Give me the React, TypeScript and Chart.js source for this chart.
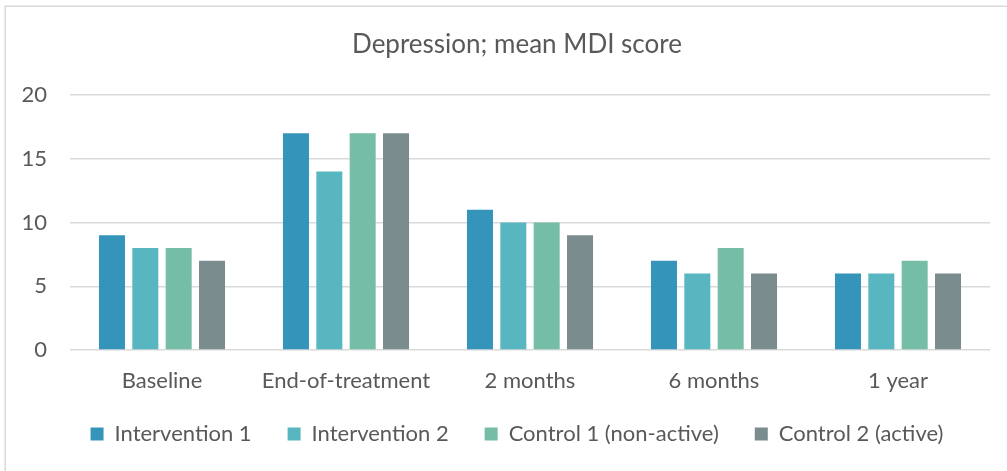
import React, { useEffect, useRef } from "react";
import { Chart, registerables } from "chart.js";

Chart.register(...registerables);

const categories = ["Baseline", "End-of-treatment", "2 months", "6 months", "1 year"];
const seriesNames = ["Intervention 1", "Intervention 2", "Control 1 (non-active)", "Control 2 (active)"];
const intervention1 = [9, 17, 11, 7, 6];
const intervention2 = [8, 14, 10, 6, 6];
const control1 = [8, 17, 10, 8, 7];
const control2 = [7, 17, 9, 6, 6];
const seriesColors = ["#3494BA", "#58B6C0", "#75BDA7", "#7A8C8E"];
const yTicks = [0, 5, 10, 15, 20];
const titleText = "Depression; mean MDI score";

const FONT = "Lato, 'Open Sans', sans-serif";
const TEXT = "#595959";
const GRID = "#d9d9d9";

const borderPlugin = {
  id: "outerBorder",
  beforeDraw(chart: any) {
    const ctx = chart.ctx;
    ctx.save();
    ctx.fillStyle = "#ffffff";
    ctx.fillRect(0, 0, chart.width, chart.height);
    ctx.strokeStyle = GRID;
    ctx.lineWidth = 1.5;
    ctx.strokeRect(5.25, 6.25, 1200, 1000);
    ctx.restore();
  },
};

const noLabelClip = (scale: any) => {
  scale._computeLabelArea = () => undefined;
};

export default function App() {
  const ref = useRef<HTMLCanvasElement>(null);
  useEffect(() => {
    document.body.style.margin = "0";
    document.body.style.overflow = "hidden";
    const values = [intervention1, intervention2, control1, control2];
    const chart = new Chart(ref.current!, {
      type: "bar",
      data: {
        labels: categories,
        datasets: seriesNames.map((name, i) => ({
          label: name,
          data: values[i],
          backgroundColor: seriesColors[i],
          borderWidth: 0,
          categoryPercentage: 0.725,
          barPercentage: 0.78,
        })),
      },
      options: {
        responsive: false,
        animation: false,
        devicePixelRatio: 1,
        layout: { padding: { left: 44, right: 17, top: 0, bottom: 16 } },
        plugins: {
          title: {
            display: true,
            text: titleText,
            color: TEXT,
            font: { family: FONT, size: 26, weight: "normal", lineHeight: 1.2 },
            padding: { top: 29.4, bottom: 34.4 },
          },
          legend: {
            display: true,
            position: "bottom",
            labels: {
              color: TEXT,
              font: { family: FONT, size: 22 },
              boxWidth: 13,
              boxHeight: 13,
              padding: 36,
            },
          },
          tooltip: { enabled: false },
        },
        scales: {
          x: {
            grid: { display: false },
            border: { display: false },
            ticks: { color: TEXT, font: { family: FONT, size: 22, lineHeight: 1.2 }, padding: 10 },
            afterFit(scale: any) {
              scale.height = 37;
              noLabelClip(scale);
            },
          },
          y: {
            min: 0,
            max: 20,
            afterBuildTicks(scale: any) {
              scale.ticks = yTicks.map((v) => ({ value: v }));
            },
            grid: { color: GRID, lineWidth: 1.5, drawTicks: false },
            border: { display: false },
            ticks: { color: TEXT, font: { family: FONT, size: 22 }, padding: 23 },
            afterFit(scale: any) {
              scale.width = 26;
              noLabelClip(scale);
            },
          },
        },
      },
      plugins: [borderPlugin],
    });
    return () => chart.destroy();
  }, []);
  return (
    <canvas
      ref={ref}
      width={1007}
      height={471}
      style={{ position: "fixed", left: 0, top: 0, width: 1007, height: 471 }}
    />
  );
}
